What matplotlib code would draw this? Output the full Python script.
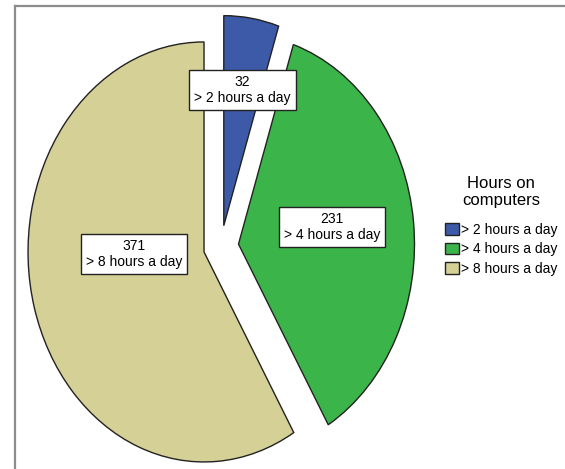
import matplotlib.pyplot as plt
from matplotlib.lines import Line2D

# data
categories = ['> 2 hours a day', '> 4 hours a day', '> 8 hours a day']
counts = [32, 231, 371]
colors = ['#3d5aa8', '#3bb54a', '#d4d096']
legend_title = 'Hours on\ncomputers'

# label centres in pie data units (rx = ry = 1)
label_xy = [(0.122, 0.745), (0.631, 0.094), (-0.494, -0.036)]

plt.rcParams['font.family'] = ['Liberation Sans', 'DejaVu Sans']

W, H = 565, 469
fig = plt.figure(figsize=(W / 100, H / 100), dpi=100)
ax = fig.add_axes([0, 0, 1, 1])

wedges, _ = ax.pie(counts, colors=colors, startangle=90, counterclock=False,
                   explode=[0.1] * len(counts),
                   wedgeprops=dict(edgecolor='#222222', linewidth=1.0))

# pie is stretched: 176 px wide radius, 210 px tall radius, centre at (221, 246) from top
cx, cy, rx, ry = 221, 246.4, 176, 210
ax.set_aspect('auto')
ax.set_xlim(-cx / rx, (W - cx) / rx)
ax.set_ylim(-(H - cy) / ry, cy / ry)
ax.axis('off')

for n, cat, (x, y) in zip(counts, categories, label_xy):
    ax.text(x, y, f'{n}\n{cat}', ha='center', va='center', fontsize=10,
            linespacing=1.2,
            bbox=dict(boxstyle='square,pad=0.35', fc='white', ec='#222222', lw=1.0))

# legend title drawn separately so its spacing matches the original
fig.text(501 / W, 1 - 192 / H, legend_title, ha='center', va='center',
         fontsize=12, linespacing=1.15, multialignment='center')

leg = fig.legend(wedges, categories,
                 loc='upper left', bbox_to_anchor=(445 / W, 1 - 223 / H),
                 frameon=False, fontsize=10,
                 handlelength=1.0, handleheight=0.95, handletextpad=0.15,
                 labelspacing=0.38, borderpad=0, borderaxespad=0)

# frame lines at top and left of the original image
fig.add_artist(Line2D([15 / W, 15 / W], [0, 1 - 6 / H], color='#8c8c8c', lw=1.6))
fig.add_artist(Line2D([15 / W, 564 / W], [1 - 6 / H, 1 - 6 / H], color='#8c8c8c', lw=1.6))

fig.savefig('out.png', dpi=100)
